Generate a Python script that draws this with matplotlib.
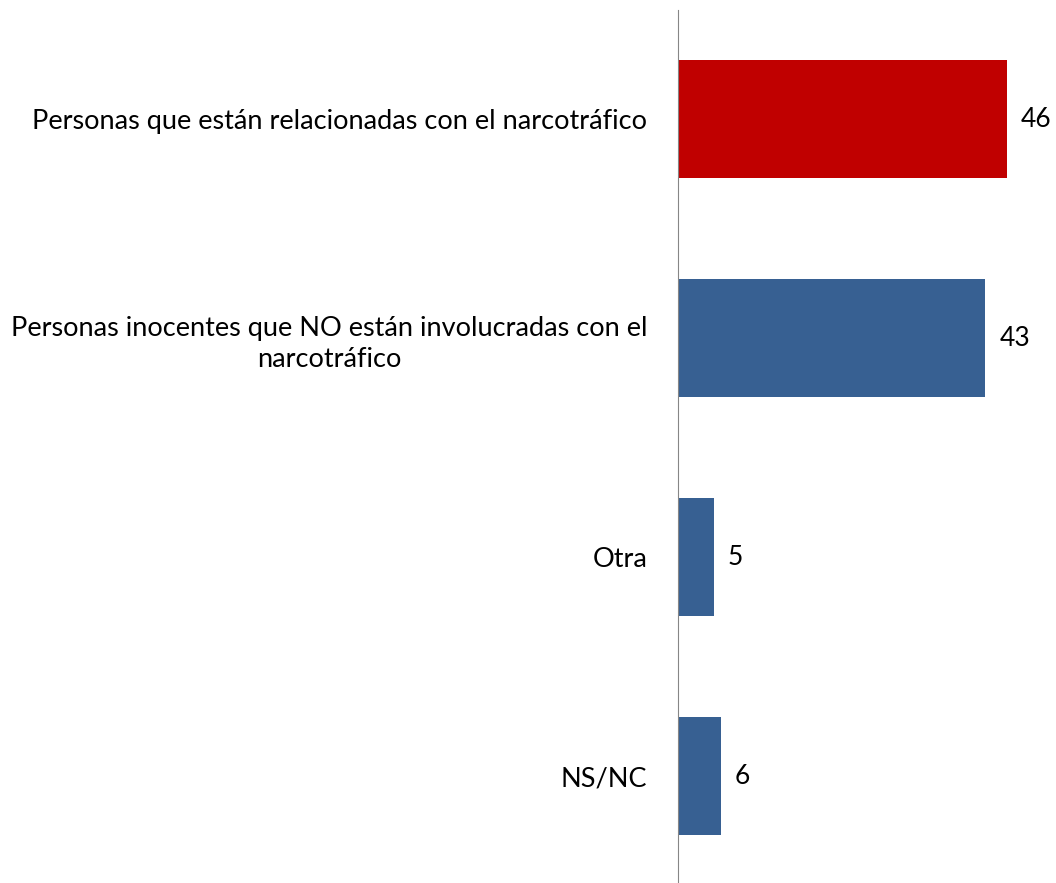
import matplotlib.pyplot as plt

categories = ['Personas que están relacionadas con el narcotráfico',
              'Personas inocentes que NO están involucradas con el\nnarcotráfico',
              'Otra',
              'NS/NC']
values = [46, 43, 5, 6]
colors = ['#C00000', '#376092', '#376092', '#376092']

plt.rcParams['font.family'] = ['Lato', 'DejaVu Sans']

fig = plt.figure(figsize=(10.56, 8.83), dpi=100)
ax = fig.add_axes([0.642, -0.003, 0.358, 0.992])

pos = range(len(values))
ax.barh(pos, values, height=0.54, color=colors)
ax.set_ylim(3.5, -0.5)
ax.set_xlim(0, 52.9)

for i, v in enumerate(values):
    ax.text(v + 2.0, i, str(v), va='center', ha='left', fontsize=19)

ax.set_yticks(list(pos))
ax.set_yticklabels(categories, fontsize=19.5, multialignment='center', linespacing=1.3)
ax.tick_params(axis='y', length=0, pad=22)
ax.set_xticks([])
for s in ['top', 'right', 'bottom']:
    ax.spines[s].set_visible(False)
ax.spines['left'].set_color('#868686')

fig.savefig('out.png', dpi=100)
